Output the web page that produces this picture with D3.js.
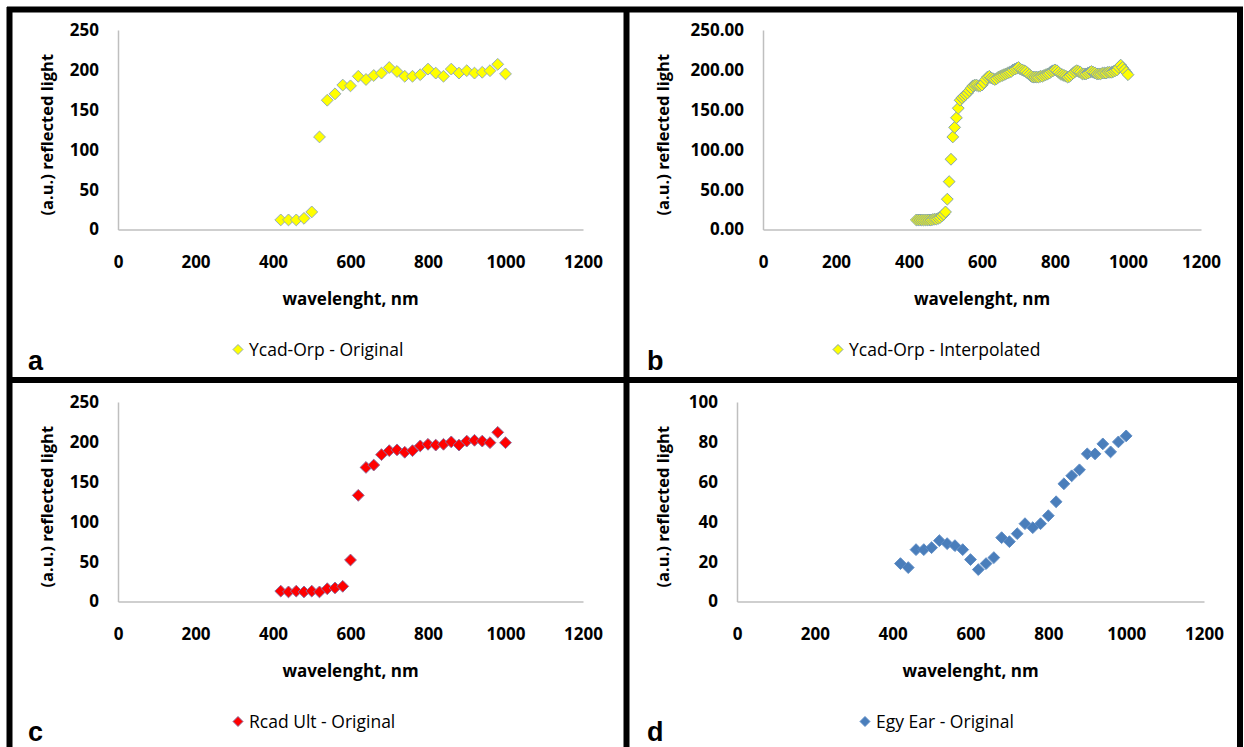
<!DOCTYPE html>
<html>
<head>
<meta charset="utf-8">
<script src="https://cdn.jsdelivr.net/npm/d3@7"></script>
<style>
  body { margin: 0; background: #fff; }
  svg { display: block; }
</style>
</head>
<body>
<svg id="fig" width="1244" height="747"></svg>
<script>
// Sampled wavelengths (nm) for the original spectra
const wavelengthNm = [420, 440, 460, 480, 500, 520, 540, 560, 580, 600,
  620, 640, 660, 680, 700, 720, 740, 760, 780, 800,
  820, 840, 860, 880, 900, 920, 940, 960, 980, 1000];

// Ycad-Orp, original measurements
const ycadOriginal = [12, 12, 12, 14, 22, 116, 162, 170, 181, 180,
  192, 188, 193, 196, 203, 198, 192, 192, 194, 201,
  196, 192, 201, 196, 199, 196, 197, 199, 207, 195];

// Ycad-Orp, resampled every 5 nm
const wavelengthInterpNm = [420, 425, 430, 435, 440, 445, 450, 455, 460, 465,
  470, 475, 480, 485, 490, 495, 500, 505, 510, 515,
  520, 525, 530, 535, 540, 545, 550, 555, 560, 565,
  570, 575, 580, 585, 590, 595, 600, 605, 610, 615,
  620, 625, 630, 635, 640, 645, 650, 655, 660, 665,
  670, 675, 680, 685, 690, 695, 700, 705, 710, 715,
  720, 725, 730, 735, 740, 745, 750, 755, 760, 765,
  770, 775, 780, 785, 790, 795, 800, 805, 810, 815,
  820, 825, 830, 835, 840, 845, 850, 855, 860, 865,
  870, 875, 880, 885, 890, 895, 900, 905, 910, 915,
  920, 925, 930, 935, 940, 945, 950, 955, 960, 965,
  970, 975, 980, 985, 990, 995, 1000];
const ycadInterp = [12, 12, 12, 12, 12, 12, 12, 12, 12, 12.5,
  13, 13, 14, 15, 17, 19, 22, 38, 60, 88,
  116, 128, 140, 152, 162, 165, 167, 169, 171, 174,
  177, 180, 181, 181, 180, 180, 181, 184, 188, 191,
  192, 190, 189, 188, 189, 191, 192, 193, 194, 195,
  196, 197, 198, 200, 201, 202, 203, 201, 200, 199,
  198, 196, 194, 192, 191, 191, 191, 191, 192, 192,
  193, 194, 195, 196, 198, 199, 200, 199, 197, 195,
  194, 193, 192, 191, 192, 194, 196, 198, 199, 198,
  197, 195, 195, 195, 196, 197, 198, 197, 196, 195,
  195, 195, 196, 196, 196, 197, 197, 197, 198, 199,
  200, 203, 206, 203, 200, 197, 194];

// Rcad Ult, original measurements
const rcadOriginal = [13, 12, 13, 12, 13, 12, 16, 17, 19, 52,
  133, 168, 171, 184, 189, 190, 187, 189, 195, 197,
  196, 197, 200, 196, 201, 202, 201, 199, 212, 199];

// Egy Ear, original measurements
const egyOriginal = [19, 17, 26, 26, 27, 30.5, 29, 28, 26, 21,
  16, 19, 22, 32, 30, 34, 39, 37, 39, 43,
  50, 59, 63, 66, 74, 74, 79, 75, 80, 83];

// Axis tick values
const xTicks = [0, 200, 400, 600, 800, 1000, 1200];
const yTicks250 = [0, 50, 100, 150, 200, 250];
const yTicks100 = [0, 20, 40, 60, 80, 100];

const panels = [
  { letter: "a", xs: wavelengthNm, ys: ycadOriginal, yMax: 250, yTicks: yTicks250, fmt: d3.format("d"),
    fill: "#ffff00", stroke: "#8fa9b9", name: "Ycad-Orp - Original",
    box: { x0: 118, x1: 583, yb: 229.5, yt: 30 }, titleX: 47, legendX: 238, letterX: 28, letterY: 370 },
  { letter: "b", xs: wavelengthInterpNm, ys: ycadInterp, yMax: 250, yTicks: yTicks250, fmt: d3.format(".2f"),
    fill: "#ffff00", stroke: "#7f9fae", name: "Ycad-Orp - Interpolated",
    box: { x0: 763, x1: 1201, yb: 229.5, yt: 30 }, titleX: 663, legendX: 838, letterX: 647, letterY: 370 },
  { letter: "c", xs: wavelengthNm, ys: rcadOriginal, yMax: 250, yTicks: yTicks250, fmt: d3.format("d"),
    fill: "#ff0000", stroke: "#8a6a9a", name: "Rcad Ult - Original",
    box: { x0: 118, x1: 583, yb: 601.5, yt: 402 }, titleX: 47, legendX: 238, letterX: 28, letterY: 741 },
  { letter: "d", xs: wavelengthNm, ys: egyOriginal, yMax: 100, yTicks: yTicks100, fmt: d3.format("d"),
    fill: "#4a7ebb", stroke: "#5d8cc4", name: "Egy Ear - Original",
    box: { x0: 737, x1: 1204, yb: 601.5, yt: 402 }, titleX: 663, legendX: 865, letterX: 647, letterY: 741 }
];

const svg = d3.select("#fig");
const FONT = "'Open Sans', 'Liberation Sans', sans-serif";
const AXIS_GREY = "#bfbfbf";
const diamond = (size) => d3.symbol().type(d3.symbolSquare).size(size)();

panels.forEach(p => {
  const g = svg.append("g");
  const x = d3.scaleLinear().domain([0, 1200]).range([p.box.x0, p.box.x1]);
  const y = d3.scaleLinear().domain([0, p.yMax]).range([p.box.yb, p.box.yt]);

  // y axis
  const ya = g.append("g")
    .attr("transform", `translate(${p.box.x0},0)`)
    .call(d3.axisLeft(y).tickValues(p.yTicks).tickFormat(p.fmt).tickSize(0).tickSizeOuter(0).tickPadding(19));
  // x axis
  const xa = g.append("g")
    .attr("transform", `translate(0,${p.box.yb})`)
    .call(d3.axisBottom(x).tickValues(xTicks).tickFormat(d3.format("d")).tickSize(0).tickSizeOuter(0).tickPadding(26));
  [ya, xa].forEach(a => {
    a.select(".domain").attr("stroke", AXIS_GREY).attr("stroke-width", 1.5);
    a.selectAll("text").attr("font-family", FONT).attr("font-weight", 700)
      .attr("font-size", 17).attr("fill", "#000");
  });

  // axis titles
  const cy = (p.box.yb + p.box.yt) / 2 + 5;
  g.append("text")
    .attr("transform", `translate(${p.titleX},${cy}) rotate(-90)`)
    .attr("text-anchor", "middle").attr("dy", "0.35em")
    .attr("font-family", FONT).attr("font-weight", 700).attr("font-size", 16.5)
    .text("(a.u.) reflected light");
  const midX = p.box.x0 + (p.box.x1 - p.box.x0) / 2;
  g.append("text")
    .attr("x", midX).attr("y", p.box.yb + 75)
    .attr("text-anchor", "middle")
    .attr("font-family", FONT).attr("font-weight", 700).attr("font-size", 17)
    .text("wavelenght, nm");

  // markers
  g.append("g").selectAll("path")
    .data(p.xs.map((w, i) => [w, p.ys[i]]))
    .join("path")
    .attr("d", diamond(70))
    .attr("transform", d => `translate(${x(d[0])},${y(d[1])}) rotate(45)`)
    .attr("fill", p.fill)
    .attr("stroke", p.stroke)
    .attr("stroke-width", 0.9);

  // legend
  const ly = p.box.yb + 120;
  g.append("path")
    .attr("d", diamond(50))
    .attr("transform", `translate(${p.legendX},${ly}) rotate(45)`)
    .attr("fill", p.fill).attr("stroke", p.stroke).attr("stroke-width", 0.9);
  g.append("text")
    .attr("x", p.legendX + 11).attr("y", ly).attr("dy", "0.35em")
    .attr("font-family", FONT).attr("font-size", 17.5)
    .text(p.name);

  // panel letter
  g.append("text")
    .attr("x", p.letterX).attr("y", p.letterY)
    .attr("font-family", "'Liberation Sans', Arial, sans-serif").attr("font-weight", 700)
    .attr("font-size", 27)
    .text(p.letter);
});

// panel frames
const frame = svg.append("g").attr("stroke", "#000").attr("stroke-width", 6);
frame.append("line").attr("x1", 7).attr("x2", 1243).attr("y1", 9.5).attr("y2", 9.5);
frame.append("line").attr("x1", 9.5).attr("x2", 9.5).attr("y1", 7).attr("y2", 747);
frame.append("line").attr("x1", 1240).attr("x2", 1240).attr("y1", 7).attr("y2", 747);
frame.append("line").attr("x1", 626.5).attr("x2", 626.5).attr("y1", 7).attr("y2", 747);
frame.append("line").attr("x1", 7).attr("x2", 1243).attr("y1", 380).attr("y2", 380);
</script>
</body>
</html>
